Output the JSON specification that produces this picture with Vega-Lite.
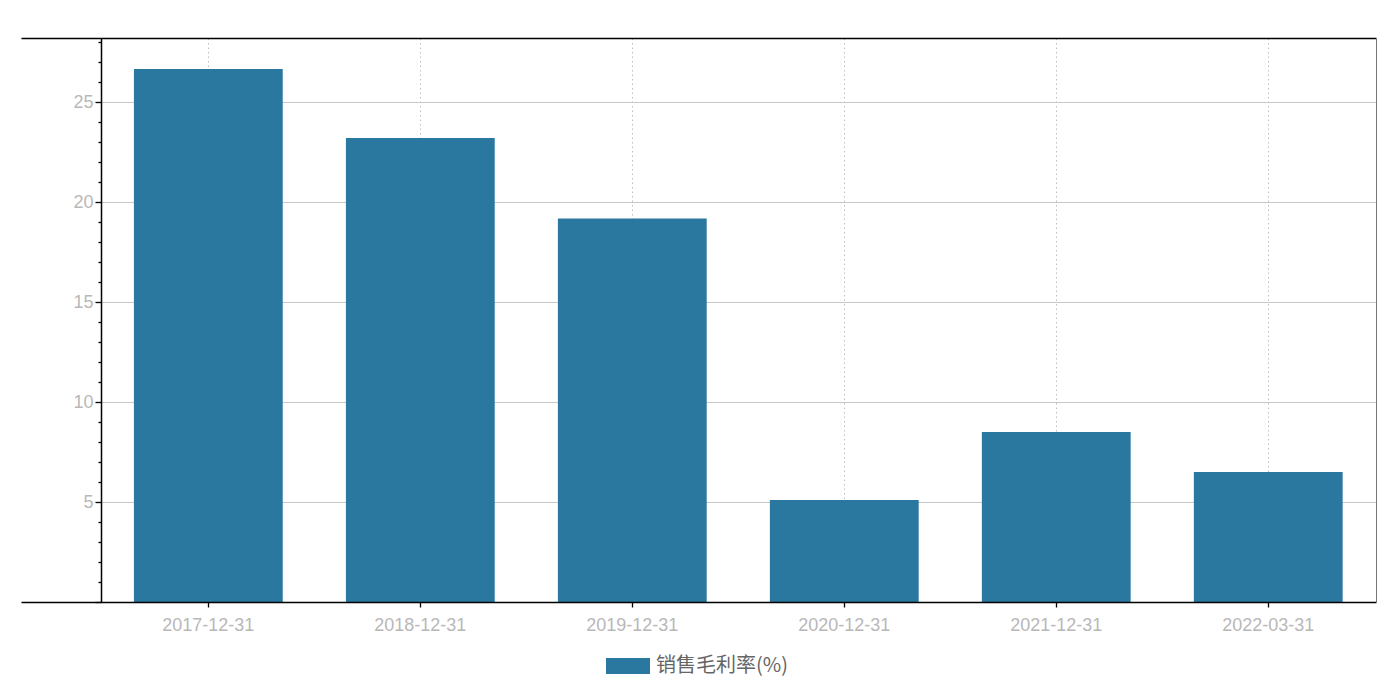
{
  "$schema": "https://vega.github.io/schema/vega-lite/v6.json",
  "width": 1355,
  "height": 564,
  "autosize": {"type": "none"},
  "padding": {"left": 21, "top": 38, "right": 22, "bottom": 89},
  "background": "white",
  "data": {
    "values": [
      {"date": "2017-12-31", "value": 26.65, "series": "销售毛利率(%)"},
      {"date": "2018-12-31", "value": 23.2, "series": "销售毛利率(%)"},
      {"date": "2019-12-31", "value": 19.18, "series": "销售毛利率(%)"},
      {"date": "2020-12-31", "value": 5.1, "series": "销售毛利率(%)"},
      {"date": "2021-12-31", "value": 8.5, "series": "销售毛利率(%)"},
      {"date": "2022-03-31", "value": 6.5, "series": "销售毛利率(%)"}
    ]
  },
  "config": {
    "view": {"stroke": null},
    "font": "Liberation Sans"
  },
  "resolve": {"scale": {"x": "independent"}, "axis": {"x": "independent", "y": "independent"}},
  "layer": [
    {
      "mark": {"type": "bar", "opacity": 0},
      "encoding": {
        "x": {
          "field": "date",
          "type": "nominal",
          "sort": null,
          "scale": {"range": [80, 1355], "paddingInner": 0.298, "paddingOuter": 0.1564, "align": 0.498},
          "axis": {
            "orient": "bottom",
            "title": null,
            "labels": false,
            "ticks": false,
            "domain": false,
            "tickBand": "center",
            "grid": true,
            "gridColor": "#bdbdbd",
            "gridDash": [1.5, 3],
            "gridWidth": 1,
            "zindex": 0
          }
        },
        "y": {
          "field": "value",
          "type": "quantitative",
          "scale": {"domain": [0, 28.2], "nice": false, "zero": true},
          "axis": {
            "orient": "left",
            "title": null,
            "values": [5, 10, 15, 20, 25],
            "labels": false,
            "ticks": false,
            "domain": false,
            "grid": true,
            "gridColor": "#c8c8c8",
            "gridWidth": 1,
            "zindex": 0
          }
        }
      }
    },
    {
      "mark": {"type": "bar", "color": "#2a78a0"},
      "encoding": {
        "x": {
          "field": "date",
          "type": "nominal",
          "sort": null,
          "scale": {"paddingInner": 0.298, "paddingOuter": 0.345, "align": 0.772},
          "axis": {
            "orient": "bottom",
            "title": null,
            "labelAngle": 0,
            "labelColor": "#b8b8b8",
            "labelFontSize": 18,
            "labelPadding": 9,
            "tickColor": "#000000",
            "tickSize": 5,
            "tickWidth": 1.3,
            "tickBand": "center",
            "domainColor": "#000000",
            "domainWidth": 1.5,
            "grid": false,
            "zindex": 1
          }
        },
        "y": {
          "field": "value",
          "type": "quantitative",
          "axis": {
            "orient": "left",
            "offset": -80,
            "title": null,
            "values": [0, 1, 2, 3, 4, 5, 6, 7, 8, 9, 10, 11, 12, 13, 14, 15, 16, 17, 18, 19, 20, 21, 22, 23, 24, 25, 26, 27, 28],
            "labelExpr": "datum.value % 5 === 0 && datum.value > 0 ? datum.label : ''",
            "labelColor": "#b8b8b8",
            "labelFontSize": 18,
            "labelPadding": 2,
            "tickColor": "#000000",
            "tickWidth": 1.3,
            "tickSize": {"condition": {"test": "datum.value % 5 === 0", "value": 6}, "value": 3},
            "domainColor": "#000000",
            "domainWidth": 1.5,
            "grid": false,
            "zindex": 1
          }
        },
        "fill": {
          "field": "series",
          "type": "nominal",
          "scale": {"range": ["#2a78a0"]},
          "legend": {
            "title": null,
            "orient": "none",
            "legendX": 585,
            "legendY": 606,
            "padding": 0,
            "direction": "horizontal",
            "labelFont": "Noto Sans CJK SC",
            "labelFontSize": 20,
            "labelColor": "#666666",
            "labelOffset": 6,
            "symbolType": "M-1,-0.364H1V0.364H-1Z",
            "symbolSize": 1936,
            "symbolStrokeWidth": 0,
            "symbolOpacity": 1
          }
        }
      }
    },
    {
      "mark": {"type": "bar", "opacity": 0},
      "encoding": {
        "x": {
          "field": "date",
          "type": "nominal",
          "sort": null,
          "axis": {
            "orient": "top",
            "title": null,
            "labels": false,
            "ticks": false,
            "grid": false,
            "domainColor": "#000000",
            "domainWidth": 1.5,
            "zindex": 1
          }
        },
        "y": {
          "field": "value",
          "type": "quantitative",
          "axis": {
            "orient": "right",
            "title": null,
            "labels": false,
            "ticks": false,
            "grid": false,
            "domainColor": "#777777",
            "domainWidth": 1,
            "zindex": 1
          }
        }
      }
    }
  ]
}
